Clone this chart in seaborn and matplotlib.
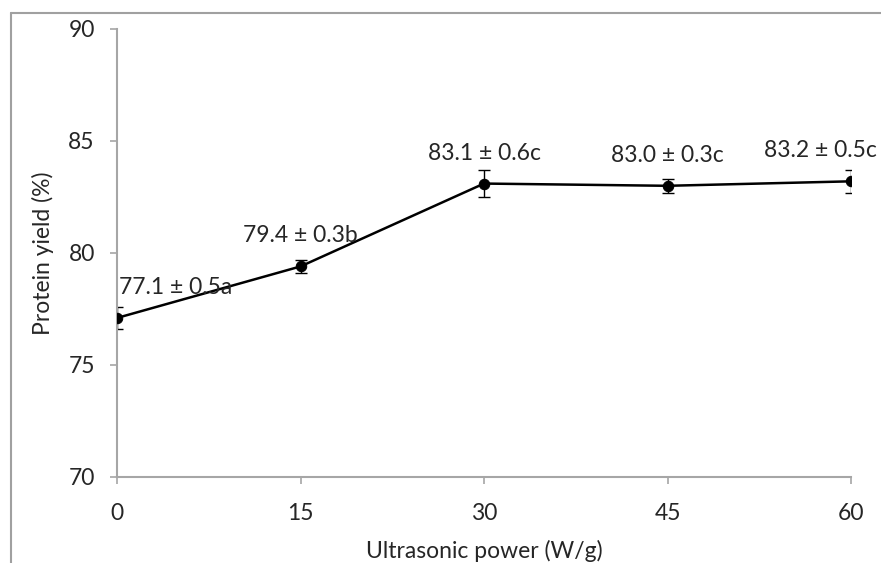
import matplotlib
matplotlib.use("Agg")
import matplotlib.pyplot as plt
import seaborn as sns
import pandas as pd
from matplotlib.lines import Line2D

# Data
power = [0, 15, 30, 45, 60]
yield_pct = [77.1, 79.4, 83.1, 83.0, 83.2]
yield_err = [0.5, 0.3, 0.6, 0.3, 0.5]
letters = ["a", "b", "c", "c", "c"]
x_ticks = [0, 15, 30, 45, 60]
y_ticks = [70, 75, 80, 85, 90]

sns.set_theme(style="white")
plt.rcParams["font.family"] = ["Lato", "DejaVu Sans"]

df = pd.DataFrame({"power": power, "yield": yield_pct, "err": yield_err})

fig = plt.figure(figsize=(8.81, 5.63), dpi=100)
ax = fig.add_axes([117/881, 1-477/563, (851-117)/881, (477-29)/563])

sns.lineplot(data=df, x="power", y="yield", ax=ax, color="black", lw=1.8,
             marker="o", markersize=7.5, markeredgecolor="black", zorder=3)
ax.errorbar(df["power"], df["yield"], yerr=df["err"], fmt="none",
            ecolor="black", elinewidth=1.0, capsize=4, capthick=1.0, zorder=2)

offsets = [(42, 22), (0, 22), (0, 22), (0, 22), (-22, 22)]
for xv, yv, ev, lt, off in zip(power, yield_pct, yield_err, letters, offsets):
    ax.annotate(f"{yv:.1f} \u00b1 {ev:.1f}{lt}", (xv, yv), xytext=off,
                textcoords="offset points", ha="center", va="center",
                fontsize=16.5, color="#262626")

ax.set_xlim(0, 60)
ax.set_ylim(70, 90)
ax.set_xticks(x_ticks)
ax.set_yticks(y_ticks)
ax.tick_params(axis="both", direction="out", length=5, width=1.2, color="#a6a6a6",
               labelsize=16.5, labelcolor="#262626", left=True, bottom=True)
ax.tick_params(axis="y", pad=11)
ax.tick_params(axis="x", pad=14)
for s in ["top", "right"]:
    ax.spines[s].set_visible(False)
for s in ["left", "bottom"]:
    ax.spines[s].set_color("#a6a6a6")
    ax.spines[s].set_linewidth(1.5)

ax.set_xlabel("Ultrasonic power (W/g)", fontsize=16.5, color="#262626", labelpad=11)
ax.set_ylabel("Protein yield (%)", fontsize=16.5, color="#262626", labelpad=10)

# outer frame (cropped at right and bottom)
fig.add_artist(Line2D([11/881, 11/881], [0, 1-13/563], transform=fig.transFigure,
                      color="#a0a0a0", lw=1.5))
fig.add_artist(Line2D([11/881, 1], [1-13/563, 1-13/563], transform=fig.transFigure,
                      color="#a0a0a0", lw=1.5))

fig.savefig("out.png", dpi=100)
